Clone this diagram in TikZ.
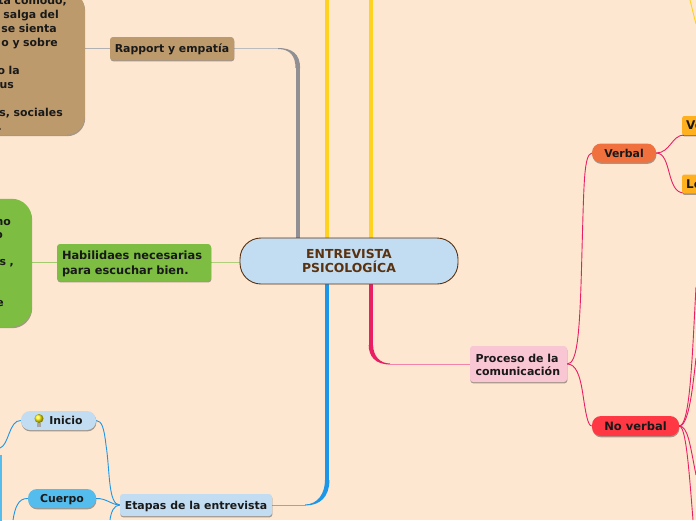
\documentclass[tikz,border=0pt]{standalone}
\usepackage{fontspec}
\setmainfont{DejaVu Sans}
\usetikzlibrary{backgrounds, shadows, calc}
\definecolor{paper}{HTML}{FDE7D1}
\definecolor{skyfill}{HTML}{C2DDF2}
\definecolor{corefont}{HTML}{5A3210}
\definecolor{rapportfill}{HTML}{BC9A6C}
\definecolor{listenfill}{HTML}{7DBD42}
\definecolor{pinkfill}{HTML}{F9C6D3}
\definecolor{verbalfill}{HTML}{F0703E}
\definecolor{noverbalfill}{HTML}{FF3844}
\definecolor{amberfill}{HTML}{FFB01E}
\definecolor{cuerpofill}{HTML}{54BDEE}
\definecolor{graybranch}{HTML}{8F8F94}
\definecolor{yellowbranch}{HTML}{FFD21F}
\definecolor{bluebranch}{HTML}{1C96E8}
\definecolor{pinkbranch}{HTML}{E91E63}
\newcommand{\cutline}[2]{\makebox[\dimexpr#1pt+120pt\relax][r]{#2}}
\tikzset{
  softshadow/.style={drop shadow={shadow xshift=0.4pt, shadow yshift=-1.4pt, opacity=0.35, fill=black}},
  flat/.style={rectangle, rounded corners=3pt, inner sep=0pt, text=black!90,
    font=\fontsize{10.9}{14}\selectfont\bfseries},
  topic/.style={flat, softshadow},
  single/.style={topic, text depth=0pt},
  pill/.style={single, rounded corners=9pt},
  cropped/.style={topic, rounded corners=18pt, align=left, text width=205pt},
  stub/.style={single, rounded corners=2pt, fill=amberfill, anchor=west, minimum width=40pt, minimum height=19pt, align=left, text width=32pt, font=\fontsize{12}{14}\selectfont\bfseries},
  twig/.style={pinkbranch, line width=0.9pt},
  bluetwig/.style={bluebranch, line width=0.9pt},
}
\begin{document}
\begin{tikzpicture}[x=1pt, y=-1pt]
    \useasboundingbox (0, 0) rectangle (696, 520);
    \clip (0, 0) rectangle (696, 520);

    \node[flat, rounded corners=21pt, draw=corefont, line width=0.9pt, fill=skyfill, text=corefont, align=center, text depth=0pt, minimum width=218pt, minimum height=46pt, font=\fontsize{12.4}{13.5}\selectfont\bfseries] (central) at (349, 261) {ENTREVISTA\\PSICOLOGÍCA};

    \node[single, fill=rapportfill, minimum width=124pt, minimum height=23pt] (rapport) at (172, 48.5) {Rapport y empatía};
    \node[topic, fill=listenfill, align=left, text width=144pt, text depth=14pt, minimum width=154pt, minimum height=37pt, font=\fontsize{11.4}{14.5}\selectfont\bfseries] (listen) at (134, 262.5) {Habilidaes necesarias\\para escuchar bien.};
    \node[topic, fill=pinkfill, align=left, text width=86pt, text depth=11.2pt, minimum width=97pt, minimum height=36pt, font=\fontsize{11}{13}\selectfont\bfseries] (proceso) at (518.5, 364) {Proceso de la\\comunicación};
    \node[single, fill=skyfill, minimum width=152pt, minimum height=22pt] (etapas) at (196, 505) {Etapas de la entrevista};

    \node[pill, fill=verbalfill, minimum width=64pt, minimum height=19pt] (verbal) at (624, 153) {Verbal};
    \node[pill, fill=noverbalfill, minimum width=87pt, minimum height=20pt, font=\fontsize{11.5}{14}\selectfont\bfseries] (noverbal) at (635.5, 426) {No verbal};
    \node[pill, fill=skyfill, minimum width=75pt, minimum height=19pt] (inicio) at (58.5, 420.5) {\hspace*{15pt}Inicio};
    \node[pill, fill=cuerpofill, minimum width=68pt, minimum height=19pt] (cuerpo) at (62, 498.5) {Cuerpo};

    \node[stub] (voz) at (682, 125.5) {Ve};
    \node[stub] (lenguaje) at (682, 184) {Le};

    \node[cropped, fill=rapportfill, anchor=south east, minimum height=143pt] (rapportbox) at (85, 135) {\cutline{67}{ta cómodo,}\\\cutline{59}{salga del}\\\cutline{57}{se sienta}\\\cutline{58}{o y sobre}\\\strut\\\cutline{20}{o la}\\\cutline{14}{us}\\\strut\\\cutline{63}{s, sociales}\\\cutline{2}{.}};
    \node[cropped, rounded corners=20pt, fill=listenfill, anchor=south east, text width=152pt, minimum height=128pt, font=\fontsize{10.9}{13.5}\selectfont\bfseries] (listenbox) at (32, 327) {\cutline{11}{no}\\\cutline{3}{o}\\\strut\\\cutline{14}{s ,}\\\strut\\\strut\\\cutline{4}{e}};
    \node[topic, rounded corners=0pt, fill=cuerpofill, anchor=north east, minimum width=10pt, minimum height=80pt] (cuerpobox) at (2, 455) {};

    \shade[ball color=yellow!90!orange] (39, 418.5) circle (4.5);
    \fill[gray!70] (37, 423) rectangle (41, 427);

    \coordinate (graystem) at (297.8, 68);
    \coordinate (yellowleft) at (327.2, 0);
    \coordinate (yellowright) at (370.9, 0);
    \coordinate (bluestem) at (327.2, 480);
    \coordinate (pinkstem) at (370.9, 345);
    \coordinate (vozend) at (696, 135);
    \coordinate (lenguajeend) at (696, 193);
    \coordinate (nvup) at (696, 287);
    \coordinate (nvmid) at (696, 358);
    \coordinate (nvlow) at (696, 475);
    \coordinate (nvbottom) at (693, 520);
    \coordinate (inicioend) at (0, 448);
    \coordinate (cuerpoend) at (13, 520);
    \coordinate (etapasend) at (110, 520);
    \coordinate (yellowfar) at (690, 0);
    \coordinate (yellowfarend) at (696, 24);

    \begin{scope}[on background layer]
        \fill[paper] (0, 0) rectangle (696, 520);

        \draw[graybranch!70, line width=1pt] (rapportbox.east |- rapport.west) -- (rapport.west);
        \draw[graybranch!60, line width=0.9pt] (rapport.east) -- (280, 48.5);
        \fill[graybranch] (278, 48) .. controls (292, 48) and (300.1, 54) .. (300.1, 68) -- (295.5, 68) .. controls (295.5, 56) and (290, 49) .. (278, 49) -- cycle;
        \draw[graybranch, line width=4.6pt] (graystem) -- (graystem |- central.north);

        \draw[yellowbranch, line width=4.4pt] (yellowleft) -- (yellowleft |- central.north);
        \draw[yellowbranch, line width=4.4pt] (yellowright) -- (yellowright |- central.north);
        \draw[yellowbranch, line width=0.9pt] (yellowfar) .. controls (692, 8) and (694, 16) .. (yellowfarend);

        \draw[bluebranch, line width=4.4pt] (bluestem) -- (bluestem |- central.south);
        \fill[bluebranch] (329.4, 480) .. controls (329.4, 497) and (320, 505.5) .. (305, 505.5) -- (305, 504.5) .. controls (318, 504.5) and (325, 493) .. (325, 480) -- cycle;
        \draw[bluebranch!70, line width=0.9pt] (etapas.east) -- (306, 505);

        \draw[pinkbranch, line width=4.4pt] (pinkstem) -- (pinkstem |- central.south);
        \fill[pinkbranch] (368.7, 345) .. controls (368.7, 356) and (375, 364.5) .. (390, 364.5) -- (390, 363.5) .. controls (380, 363.5) and (373.1, 356) .. (373.1, 345) -- cycle;
        \draw[pinkbranch!55, line width=0.9pt] (388, 364) -- (proceso.west);

        \draw[listenfill!70!paper, line width=1pt] (listenbox.east |- listen.west) -- (listen.west);
        \draw[listenfill!60!paper, line width=0.9pt] (listen.east) -- (central.west |- listen.east);

        \draw[twig] (proceso.east) .. controls (578, 364) and (580, 330) .. (582, 250) .. controls (584, 180) and (584, 155) .. (verbal.west);
        \draw[twig] (proceso.east) .. controls (576, 364) and (580, 375) .. (583, 395) .. controls (586, 415) and (588, 426) .. (noverbal.west);

        \draw[twig] (verbal.east) .. controls (670, 153) and (672, 135) .. (684, 135) -- (vozend);
        \draw[twig] (verbal.east) .. controls (672, 153) and (666, 193) .. (684, 193) -- (lenguajeend);

        \draw[twig] (noverbal.east) .. controls (690, 426) and (692, 360) .. (nvup);
        \draw[twig] (noverbal.east) .. controls (688, 426) and (692, 395) .. (nvmid);
        \draw[twig] (noverbal.east) .. controls (688, 426) and (690, 445) .. (nvlow);
        \draw[twig] (noverbal.east) .. controls (686, 426) and (689, 470) .. (nvbottom);

        \draw[bluetwig] (etapas.west) .. controls (108, 505) and (110, 470) .. (106, 445) .. controls (104, 428) and (102, 421) .. (inicio.east);
        \draw[bluetwig] (etapas.west) .. controls (112, 505) and (106, 498) .. (cuerpo.east);
        \draw[bluetwig] (etapas.west) .. controls (114, 505) and (111, 512) .. (etapasend);
        \draw[bluetwig] (inicio.west) .. controls (9, 420) and (9, 445) .. (inicioend);
        \draw[bluetwig] (cuerpo.west) .. controls (18, 498) and (15, 508) .. (cuerpoend);
    \end{scope}
\end{tikzpicture}
\end{document}
